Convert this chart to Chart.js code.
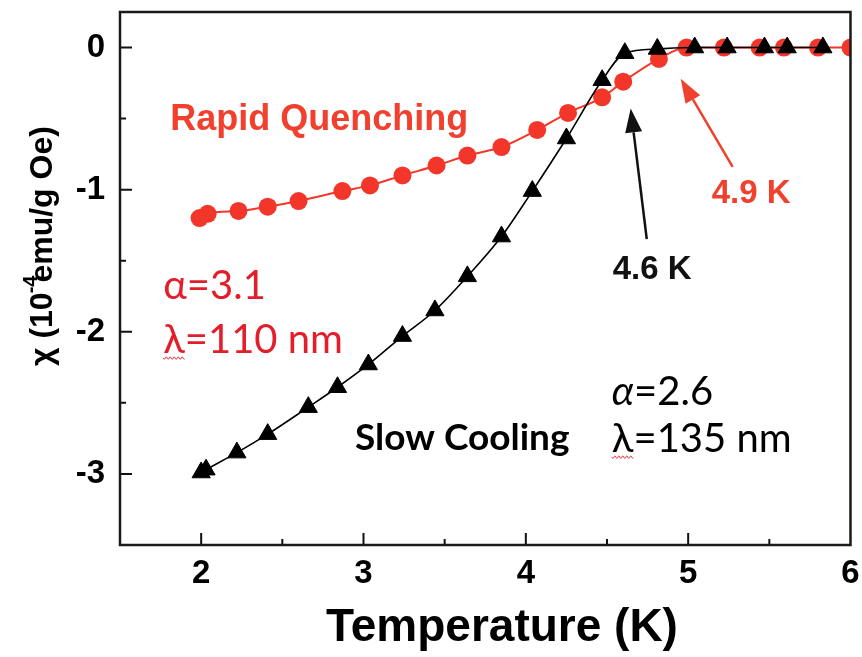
<!DOCTYPE html>
<html>
<head>
<meta charset="utf-8">
<script src="https://cdn.jsdelivr.net/npm/chart.js@4.4.1/dist/chart.umd.min.js"></script>
<style>
  html, body { margin: 0; padding: 0; background: #fff; }
  canvas { display: block; }
</style>
</head>
<body>
<canvas id="chi" width="862" height="657"></canvas>
<script>
// Susceptibility chi (10^-4 emu/g Oe) versus temperature (K)
const slowCoolingT   = [2.00, 2.03, 2.22, 2.41, 2.66, 2.84, 3.03, 3.24, 3.44, 3.64, 3.85, 4.04, 4.25, 4.47, 4.61, 4.81, 5.04, 5.24, 5.47, 5.61, 5.83];
const slowCoolingChi = [-2.99, -2.97, -2.85, -2.72, -2.53, -2.39, -2.23, -2.03, -1.85, -1.61, -1.33, -1.01, -0.64, -0.23, -0.04, -0.01, 0, 0, 0, 0, 0];

const quenchT   = [1.99, 2.04, 2.23, 2.41, 2.60, 2.87, 3.04, 3.24, 3.45, 3.64, 3.85, 4.07, 4.26, 4.47, 4.60, 4.82, 4.99, 5.22, 5.44, 5.59, 5.80, 6.00];
const quenchChi = [-1.20, -1.17, -1.15, -1.12, -1.08, -1.01, -0.97, -0.90, -0.83, -0.76, -0.70, -0.58, -0.46, -0.35, -0.24, -0.08, 0, 0, 0, 0, 0, 0];

const xTickLabels = [2, 3, 4, 5, 6];
const yTickLabels = [0, -1, -2, -3];

const ARIAL = '"Liberation Sans", Arial, Helvetica, sans-serif';
const SOFT  = 'Lato, "Open Sans", sans-serif';
const RED        = '#f2372a';
const RED_TEXT   = '#f2402f';
const PARAM_RED  = '#e41d2b';

// Text placed in data coordinates (left edge, baseline)
const notes = [
  { text: 'Rapid Quenching', x: 1.809, y: -0.582, color: RED_TEXT, font: `bold 36px ${ARIAL}` },
  { text: '4.9 K',           x: 5.145, y: -1.091, color: RED_TEXT, font: `bold 33px ${ARIAL}` },
  { text: '4.6 K',           x: 4.535, y: -1.627, color: '#111',   font: `bold 33px ${ARIAL}` },
  { text: 'Slow Cooling',    x: 2.948, y: -2.833, color: '#000',   font: `bold 37px ${SOFT}` }
];

// Fit parameters for each treatment
const fitParams = [
  { alpha: '3.1', lambda: '110 nm', x: 1.766, yAlpha: -1.767, yLambda: -2.150, color: PARAM_RED, italicAlpha: false },
  { alpha: '2.6', lambda: '135 nm', x: 4.530, yAlpha: -2.512, yLambda: -2.847, color: '#000',    italicAlpha: true }
];

// Arrows marking the transition temperatures
const arrows = [
  { from: [4.745, -1.348], to: [4.646, -0.429], color: '#111' },
  { from: [5.274, -0.839], to: [4.954, -0.220], color: '#f0402f' }
];

function wavy(ctx, x0, x1, y, color) {
  ctx.save();
  ctx.strokeStyle = color;
  ctx.lineWidth = 1;
  ctx.beginPath();
  for (let x = x0; x <= x1; x += 0.5) {
    const yy = y + 1.3 * Math.sin((x - x0) / 4 * Math.PI * 2);
    if (x === x0) ctx.moveTo(x, yy); else ctx.lineTo(x, yy);
  }
  ctx.stroke();
  ctx.restore();
}

const decor = {
  id: 'decor',
  afterDatasetsDraw(chart) {
    const { ctx, chartArea: a, scales: { x, y } } = chart;
    ctx.save();
    // inward tick marks
    ctx.strokeStyle = '#111';
    ctx.lineWidth = 2;
    ctx.beginPath();
    for (let v = x.min + 0.5; v < x.max - 1e-9; v += 0.5) {
      const px = x.getPixelForValue(v);
      const len = Number.isInteger(v) ? 12 : 6;
      ctx.moveTo(px, a.bottom); ctx.lineTo(px, a.bottom - len);
    }
    for (let v = y.min + 0.5; v < y.max - 1e-9; v += 0.5) {
      const py = y.getPixelForValue(v);
      const len = Number.isInteger(v) ? 12 : 6;
      ctx.moveTo(a.left, py); ctx.lineTo(a.left + len, py);
    }
    ctx.stroke();
    // frame
    ctx.lineWidth = 2.5;
    ctx.strokeStyle = '#1a1a1a';
    ctx.strokeRect(a.left, a.top, a.right - a.left, a.bottom - a.top);
    ctx.restore();
  },
  afterDraw(chart) {
    const { ctx, scales: { x, y } } = chart;
    ctx.save();
    ctx.textBaseline = 'alphabetic';
    ctx.textAlign = 'left';

    // arrows
    arrows.forEach(ar => {
      const x0 = x.getPixelForValue(ar.from[0]), y0 = y.getPixelForValue(ar.from[1]);
      const x1 = x.getPixelForValue(ar.to[0]),   y1 = y.getPixelForValue(ar.to[1]);
      const ang = Math.atan2(y1 - y0, x1 - x0);
      const hl = 24, hw = 8.5;
      const bx = x1 - hl * Math.cos(ang), by = y1 - hl * Math.sin(ang);
      ctx.strokeStyle = ar.color;
      ctx.fillStyle = ar.color;
      ctx.lineWidth = 2.5;
      ctx.beginPath(); ctx.moveTo(x0, y0); ctx.lineTo(bx, by); ctx.stroke();
      ctx.beginPath();
      ctx.moveTo(x1, y1);
      ctx.lineTo(bx + hw * Math.sin(ang), by - hw * Math.cos(ang));
      ctx.lineTo(bx - hw * Math.sin(ang), by + hw * Math.cos(ang));
      ctx.closePath(); ctx.fill();
    });

    // labels
    notes.forEach(n => {
      ctx.font = n.font;
      ctx.fillStyle = n.color;
      ctx.fillText(n.text, x.getPixelForValue(n.x), y.getPixelForValue(n.y));
    });

    // fit parameters
    fitParams.forEach(p => {
      const px = x.getPixelForValue(p.x);
      const normal = `40px ${SOFT}`;
      ctx.fillStyle = p.color;
      let ya = y.getPixelForValue(p.yAlpha);
      ctx.font = p.italicAlpha ? `italic 40px ${SOFT}` : normal;
      ctx.fillText('α', px, ya);
      const wa = ctx.measureText('α').width;
      ctx.font = normal;
      ctx.fillText('=' + p.alpha, px + wa, ya);
      const yl = y.getPixelForValue(p.yLambda);
      ctx.fillText('λ=' + p.lambda, px, yl);
      const wl = ctx.measureText('λ').width;
      wavy(ctx, px, px + wl, yl + 5, '#e0303a');
    });

    // axis titles
    ctx.fillStyle = '#000';
    ctx.font = `bold 46px ${ARIAL}`;
    ctx.textAlign = 'center';
    ctx.textBaseline = 'middle';
    ctx.fillText('Temperature (K)', 502, 628);

    ctx.translate(52, 246);
    ctx.rotate(-Math.PI / 2);
    ctx.textAlign = 'left';
    ctx.textBaseline = 'alphabetic';
    const big = `bold 32px ${ARIAL}`, small = `bold 20px ${ARIAL}`;
    const p1 = 'χ (10', sup = '-4', p2 = 'emu/g Oe)';
    ctx.font = big;  const w1 = ctx.measureText(p1).width, w2 = ctx.measureText(p2).width;
    ctx.font = small; const ws = ctx.measureText(sup).width;
    const adv = ws * 0.55;
    let sx = -(w1 + adv + w2) / 2;
    ctx.font = big;  ctx.fillText(p1, sx, 0); sx += w1;
    ctx.font = small; ctx.fillText(sup, sx - 1, -15); sx += adv;
    ctx.font = big;  ctx.fillText(p2, sx, 0);
    ctx.restore();
  }
};

const tickFont = { family: ARIAL, size: 33, weight: 'bold' };

new Chart(document.getElementById('chi'), {
  type: 'scatter',
  data: {
    datasets: [
      {
        label: 'Slow Cooling',
        data: slowCoolingT.map((t, i) => ({ x: t, y: slowCoolingChi[i] })),
        showLine: true,
        borderColor: '#000',
        backgroundColor: '#000',
        borderWidth: 1.6,
        pointStyle: 'triangle',
        pointRadius: 10.5,
        pointBorderWidth: 1,
        pointBorderColor: '#000',
        pointBackgroundColor: '#000',
        cubicInterpolationMode: 'monotone',
        order: 0
      },
      {
        label: 'Rapid Quenching',
        data: quenchT.map((t, i) => ({ x: t, y: quenchChi[i] })),
        showLine: true,
        borderColor: RED,
        backgroundColor: RED,
        borderWidth: 2,
        pointStyle: 'circle',
        pointRadius: 9,
        pointBorderWidth: 0,
        pointBackgroundColor: RED,
        cubicInterpolationMode: 'monotone',
        order: 1
      }
    ]
  },
  options: {
    responsive: false,
    animation: false,
    devicePixelRatio: 1,
    layout: { padding: { top: 12, right: 11, left: 0, bottom: 0 } },
    plugins: { legend: { display: false }, tooltip: { enabled: false } },
    scales: {
      x: {
        type: 'linear', position: 'bottom', min: 1.5, max: 6,
        afterFit(s) { s.height = 112; s.paddingLeft = 0; s.paddingRight = 0; },
        grid: { display: false, drawTicks: false },
        border: { display: false },
        ticks: {
          stepSize: 0.5, autoSkip: false, maxRotation: 0, padding: 9, includeBounds: false,
          color: '#000', font: tickFont,
          callback: v => xTickLabels.includes(v) ? String(v) : ''
        }
      },
      y: {
        type: 'linear', min: -3.5, max: 0.25,
        afterFit(s) { s.width = 120; s.paddingTop = 0; s.paddingBottom = 0; },
        grid: { display: false, drawTicks: false },
        border: { display: false },
        ticks: {
          stepSize: 0.5, autoSkip: false, padding: 15, includeBounds: false,
          color: '#000', font: tickFont,
          callback: v => yTickLabels.includes(v) ? String(v) : ''
        }
      }
    }
  },
  plugins: [decor]
});
</script>
</body>
</html>
